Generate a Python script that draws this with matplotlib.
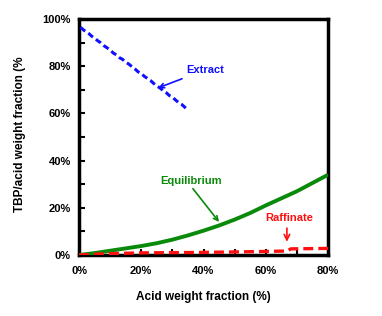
import matplotlib
matplotlib.use("Agg")
import matplotlib.pyplot as plt
from matplotlib.ticker import MultipleLocator, FuncFormatter

plt.rcParams['font.family'] = ['Liberation Sans', 'DejaVu Sans']
plt.rcParams['font.weight'] = 'bold'

# Extract phase data (acid weight fraction %, TBP/acid weight fraction %)
extract_x = [0.5, 1.5, 3, 4, 5, 6, 7, 8, 9, 10, 11, 12, 13, 14, 15, 16, 17, 18, 19,
             20, 21, 22, 23, 24, 25, 26, 27, 28, 29, 30, 31, 32, 33, 34.5]
extract_y = [96.5, 95.3, 94.0, 92.8, 91.9, 90.8, 89.9, 88.7, 87.8, 86.9, 85.6, 84.8, 83.6,
             82.9, 81.7, 80.9, 79.8, 78.8, 77.6, 76.9, 75.7, 74.8, 73.9, 72.7, 71.6,
             70.8, 69.7, 68.8, 67.6, 66.9, 65.7, 64.6, 63.8, 62.0]

# Equilibrium curve
equil_x = [0, 5, 10, 15, 20, 25, 30, 35, 40, 45, 50, 55, 60, 65, 70, 75, 80]
equil_y = [0, 0.8, 1.8, 2.8, 3.8, 5.0, 6.5, 8.3, 10.3, 12.5, 15.0, 17.8, 21.0, 24.0, 27.0, 30.5, 34.0]

# Raffinate phase data
raff_x = [0, 10, 20, 30, 40, 50, 60, 67, 68, 80]
raff_y = [0, 0.6, 0.9, 1.0, 1.1, 1.3, 1.5, 1.7, 2.6, 2.8]

fig = plt.figure(figsize=(3.82, 3.16), dpi=100)
ax = fig.add_axes([79/382, 1-255/316, (328-79)/382, (255-19)/316])

ax.plot(equil_x, equil_y, color='#0a8a0a', lw=2.8, solid_capstyle='butt', zorder=3)
ax.plot(raff_x, raff_y, color='#ff1010', lw=2.4, linestyle=(0, (3.0, 1.5)), zorder=3)
ax.plot(extract_x, extract_y, color='#1010ff', lw=2.2, linestyle=(0, (2.0, 1.2)), zorder=3)

ax.set_xlim(0, 80)
ax.set_ylim(0, 100)
ax.xaxis.set_major_locator(MultipleLocator(20))
ax.xaxis.set_minor_locator(MultipleLocator(10))
ax.yaxis.set_major_locator(MultipleLocator(20))
ax.yaxis.set_minor_locator(MultipleLocator(10))
pct = FuncFormatter(lambda v, p: f"{v:.0f}%")
ax.xaxis.set_major_formatter(pct)
ax.yaxis.set_major_formatter(pct)
ax.tick_params(which='both', direction='in', width=1.5, labelsize=8)
ax.tick_params(which='major', length=4)
ax.tick_params(which='minor', length=4)
ax.tick_params(axis='x', pad=8)
ax.tick_params(axis='y', pad=6)
for lab in ax.get_xticklabels() + ax.get_yticklabels():
    lab.set_fontweight('bold')
for s in ax.spines.values():
    s.set_linewidth(2.5)

ax.set_xlabel("Acid weight fraction (%)", fontsize=8.5, fontweight='bold', labelpad=11)
fig.text(20/382, 1-134/316, "TBP/acid weight fraction (%", rotation=90, fontsize=8.5,
         fontweight='bold', ha='center', va='center')

ax.annotate("Extract", xy=(25.4, 70.8), xytext=(34.4, 78.4), color='#1010ff',
            fontsize=8, fontweight='bold', va='center', ha='left',
            arrowprops=dict(arrowstyle='->', color='#1010ff', lw=1.2,
                            shrinkA=2, shrinkB=0))
ax.annotate("Equilibrium", xy=(45, 14), xytext=(26, 31.4), color='#0a8a0a',
            fontsize=8, fontweight='bold', va='center', ha='left',
            arrowprops=dict(arrowstyle='->', color='#0a8a0a', lw=1.2,
                            shrinkA=0, shrinkB=0, relpos=(0.5, 0)))
ax.text(59.8, 15.7, "Raffinate", color='#ff1010', fontsize=8, fontweight='bold',
        va='center', ha='left')
ax.annotate("", xy=(66.8, 5.6), xytext=(66.8, 11.4),
            arrowprops=dict(arrowstyle='->', color='#ff1010', lw=1.2, shrinkA=0, shrinkB=0))

fig.savefig("out.png", dpi=100)
